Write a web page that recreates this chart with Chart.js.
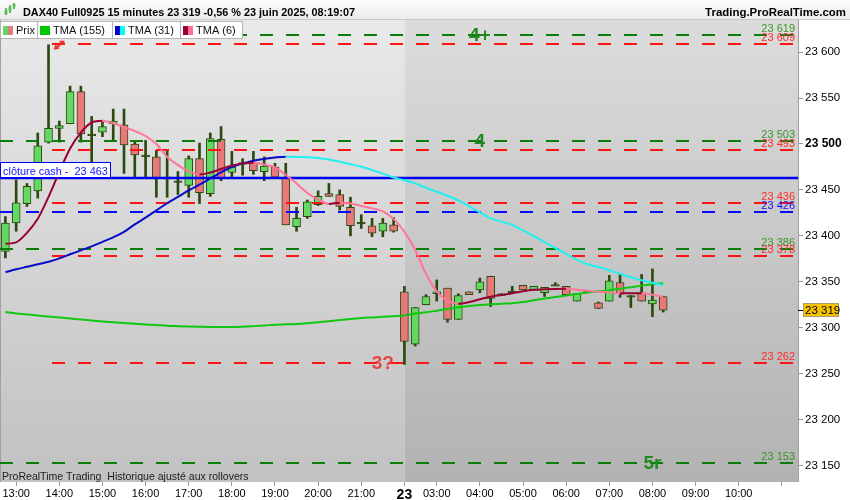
<!DOCTYPE html>
<html>
<head>
<meta charset="utf-8">
<script src="https://cdn.jsdelivr.net/npm/chart.js"></script>
<style>
  html, body { margin: 0; padding: 0; background: #fff; }
  #wrap { width: 850px; height: 500px; }
</style>
</head>
<body>
<div id="wrap"><canvas id="chart" width="850" height="500"></canvas></div>
<script>
// ── DATA (15 min bars, 22 juin 12:45 → 23 juin 08:15) ─────────────
const sessionStarts = ['12:45', '02:15'];
const sessionBars   = [37, 25];
const emptySlots    = 12;

const opens  = [23383,23414,23435,23449,23502,23517,23522,23557,23510,23513,23522,23521,23500,23487,23486,23463,23459,23455,23484,23446,23505,23469,23479,23480,23470,23475,23464,23410,23421,23434,23446,23445,23431,23414,23411,23405,23412,
                23339,23282,23325,23337,23343,23309,23339,23341,23356,23336,23339,23346,23341,23338,23346,23345,23329,23339,23327,23329,23349,23334,23338,23326,23334];
const highs  = [23421,23461,23457,23512,23608,23525,23563,23563,23530,23524,23538,23538,23504,23504,23493,23493,23470,23487,23501,23512,23519,23492,23484,23492,23486,23479,23479,23431,23439,23449,23457,23450,23442,23423,23419,23419,23420,
                23345,23322,23336,23352,23343,23337,23339,23354,23356,23337,23345,23346,23345,23344,23349,23345,23337,23340,23328,23357,23359,23335,23358,23364,23334];
const lows   = [23376,23405,23432,23441,23501,23502,23522,23502,23479,23508,23504,23468,23464,23464,23442,23442,23445,23442,23435,23443,23460,23464,23466,23467,23460,23463,23412,23405,23419,23433,23443,23428,23400,23408,23399,23399,23404,
                23260,23280,23325,23329,23306,23309,23336,23338,23323,23335,23337,23341,23341,23334,23346,23336,23329,23338,23321,23329,23333,23322,23329,23312,23317];
const closes = [23414,23436,23454,23498,23517,23520,23557,23511,23509,23519,23525,23499,23488,23487,23463,23463,23459,23484,23447,23506,23463,23475,23479,23471,23476,23464,23412,23419,23437,23443,23443,23432,23411,23414,23403,23414,23405,
                23285,23322,23334,23339,23309,23335,23336,23350,23332,23336,23339,23341,23345,23344,23346,23336,23337,23339,23321,23351,23337,23334,23329,23330,23319];

const tma155 = [23317.1,23315.5,23314.5,23313.3,23312.2,23311.1,23310,23309,23307.8,23306.7,23305.8,23305,23304.3,23303.6,23303,23302.2,23301.7,23301.3,23301,23300.8,23300.8,23300.8,23301.1,23301.7,23302.4,23303.3,23303.7,23304.1,23304.9,23305.9,23307.1,23308.3,23309.5,23310.5,23311.2,23311.8,23312.5,
                23313.4,23315.4,23316.7,23318.5,23320.4,23322.2,23323.6,23324.7,23325.5,23326.1,23326.6,23328,23329.9,23331.7,23333.3,23335,23336.8,23338.4,23339.6,23340.7,23342.4,23344,23345.8,23347.4,23348.4];
const tma31  = [23360.5,23363.6,23366.3,23369,23371.7,23375.5,23379.9,23384.2,23388.6,23393.5,23398.4,23404.3,23412.5,23419.8,23427.7,23435.5,23442.4,23449.5,23455.7,23462.5,23469.2,23475,23478.8,23481.8,23483.7,23485.3,23486.2,23485.9,23485.7,23484.8,23483.2,23480.7,23478,23475.2,23471.7,23467.8,23463.6,
                23460.5,23457.1,23452.4,23448,23443.7,23438.6,23432.1,23425.5,23419,23415.5,23412,23406,23399.8,23393.2,23386.7,23380.4,23373.9,23369,23366,23362.5,23358.7,23354.9,23351.6,23348.9,23346.2];
const tma6   = [23391.3,23392.9,23403.3,23418.5,23442.4,23469.6,23495.1,23512.5,23523.4,23525.3,23522.5,23518.5,23514.1,23508.7,23500,23485.9,23477.2,23470.1,23466.8,23469,23472.8,23476.6,23478.8,23479.6,23477.7,23474.5,23466.3,23457.1,23446.7,23439.7,23434.8,23436.1,23435.3,23432.6,23429.9,23426.6,23418.5,
                23404.3,23384.8,23358.7,23339.5,23329.3,23326.1,23327.9,23331,23333.7,23335.7,23337.5,23339.7,23341.3,23341.8,23342.2,23342.4,23341.3,23340.2,23339.1,23338.4,23337.3,23337.5,23337.6,23335.9,23333.7];

const tickSlots  = [1,5,9,13,17,21,25,29,33,37,40,44,48,52,56,60,64,68,72];
const tickLabels = ['13:00','14:00','15:00','16:00','17:00','18:00','19:00','20:00','21:00','23','03:00','04:00','05:00','06:00','07:00','08:00','09:00','10:00',''];

const yTicks = [23150,23200,23250,23300,23350,23400,23450,23500,23550,23600];
const yMin = 23132, yMax = 23635;

const levelValues = [23619, 23609, 23503, 23493, 23436, 23426, 23386, 23378, 23262, 23153];
const levelKinds  = ['g',   'r',   'g',   'r',   'r',   'b',   'g',   'r',   'r',   'g'];
const cashClose = 23463;
const lastPrice = 23319;

const noteTexts  = ['4+', '4', '3?', '5r'];
const noteSlots  = [44, 44, 35, 60];
const noteValues = [23619, 23503, 23262, 23153];
const noteKinds  = ['g', 'g', 'r', 'g'];

// ── STYLE ─────────────────────────────────────────────
const FONT = "'Liberation Sans', Arial, sans-serif";
const UP = '#63d963', DOWN = '#e9787a', EDGE = '#2c4a10';
const levelStyle = {
  g: { line: '#0b7d0b', text: '#3a962a', from: -0.5 },
  r: { line: '#ff1414', text: '#ff2a2a', from: 4.32 },
  b: { line: '#0a0aff', text: '#1010ff', from: -0.5 }
};
const noteColor = { g: '#1f8a1f', r: '#e64545' };

const pad = n => String(n).padStart(2, '0');
function buildSlots() {
  const out = [];
  let h = 0, m = 0;
  sessionStarts.forEach((s, k) => {
    [h, m] = s.split(':').map(Number);
    for (let i = 0; i < sessionBars[k]; i++) {
      out.push(pad(h) + ':' + pad(m));
      m += 15; if (m >= 60) { m -= 60; h++; }
    }
  });
  for (let i = 0; i < emptySlots; i++) {
    out.push(pad(h) + ':' + pad(m));
    m += 15; if (m >= 60) { m -= 60; h++; }
  }
  return out;
}
const slotLabels = buildSlots();
const fmt = v => String(Math.round(v)).replace(/\B(?=(\d{3})+(?!\d))/g, ' ');

const isDoji = i => Math.abs(closes[i] - opens[i]) <= 1;
const bodies = opens.map((o, i) => isDoji(i) ? [o - 0.9, o + 0.9] : [Math.min(o, closes[i]), Math.max(o, closes[i])]);
const bodyColors = opens.map((o, i) => isDoji(i) ? EDGE : (closes[i] > o ? UP : DOWN));
const wicks = lows.map((l, i) => [l, highs[i]]);

function trendSegment(upColor, downColor) {
  return { borderColor: c => c.p1.parsed.y >= c.p0.parsed.y ? upColor : downColor };
}

function fitText(ctx, text, x, y, width, weight, maxSize) {
  ctx.font = `${weight} 20px ${FONT}`;
  let size = 20 * width / ctx.measureText(text).width;
  if (size > maxSize) size = maxSize;
  ctx.font = `${weight} ${size.toFixed(2)}px ${FONT}`;
  ctx.fillText(text, x, y);
}

// ── DECORATIONS ───────────────────────────────────────
const decor = {
  id: 'decor',
  beforeDraw(chart) {
    const { ctx, chartArea: a, scales: { x } } = chart;
    ctx.save();
    ctx.fillStyle = '#fff';
    ctx.fillRect(0, 0, chart.width, chart.height);
    const split = x.getPixelForValue(sessionBars[0]);
    let g = ctx.createLinearGradient(0, a.top, 0, a.bottom);
    g.addColorStop(0, '#e9e9e9'); g.addColorStop(1, '#c1c1c1');
    ctx.fillStyle = g;
    ctx.fillRect(a.left, a.top, split - a.left, a.bottom - a.top);
    g = ctx.createLinearGradient(0, a.top, 0, a.bottom);
    g.addColorStop(0, '#dcdcdc'); g.addColorStop(1, '#b2b2b2');
    ctx.fillStyle = g;
    ctx.fillRect(split, a.top, a.right - split, a.bottom - a.top);
    ctx.strokeStyle = '#a0a0a0'; ctx.lineWidth = 1;
    ctx.beginPath();
    ctx.moveTo(a.left + 0.5, a.top); ctx.lineTo(a.left + 0.5, a.bottom);
    ctx.moveTo(a.right + 0.5, a.top); ctx.lineTo(a.right + 0.5, a.bottom);
    ctx.stroke();
    ctx.restore();
  },
  afterDatasetDraw(chart, args) {
    if (args.index !== 1) return;
    const { ctx, chartArea: a, scales: { x, y } } = chart;
    ctx.save();
    ctx.beginPath(); ctx.rect(a.left, a.top, a.right - a.left, a.bottom - a.top); ctx.clip();
    ctx.lineWidth = 2;
    ctx.setLineDash([13, 13]);
    levelValues.forEach((v, i) => {
      const st = levelStyle[levelKinds[i]];
      const py = Math.round(y.getPixelForValue(v));
      ctx.strokeStyle = st.line;
      ctx.beginPath();
      ctx.moveTo(x.getPixelForValue(st.from), py);
      ctx.lineTo(a.right, py);
      ctx.stroke();
    });
    ctx.setLineDash([]);
    // cash close line
    const cy = Math.round(y.getPixelForValue(cashClose));
    ctx.strokeStyle = '#0000f0'; ctx.lineWidth = 2.5;
    ctx.beginPath(); ctx.moveTo(a.left, cy); ctx.lineTo(a.right, cy); ctx.stroke();
    ctx.restore();
  },
  afterDraw(chart) {
    const { ctx, chartArea: a, scales: { x, y } } = chart;
    ctx.save();
    // level values at right edge
    ctx.textAlign = 'right';
    ctx.textBaseline = 'alphabetic';
    ctx.font = `11px ${FONT}`;
    levelValues.forEach((v, i) => {
      ctx.fillStyle = levelStyle[levelKinds[i]].text;
      ctx.fillText(fmt(v), a.right - 3, y.getPixelForValue(v) - 3);
    });
    // wave notes
    ctx.textAlign = 'center';
    ctx.textBaseline = 'middle';
    ctx.font = `bold 19px ${FONT}`;
    noteTexts.forEach((t, i) => {
      ctx.fillStyle = noteColor[noteKinds[i]];
      ctx.fillText(t, x.getPixelForValue(noteSlots[i]), y.getPixelForValue(noteValues[i]) + 1);
    });
    // red marker at the spike high
    const hi = highs.indexOf(Math.max(...highs));
    const hx = x.getPixelForValue(hi), hy = y.getPixelForValue(highs[hi]);
    ctx.strokeStyle = '#e63232'; ctx.fillStyle = '#e63232'; ctx.lineWidth = 2;
    ctx.beginPath();
    ctx.moveTo(hx + 11, hy - 3); ctx.lineTo(hx + 16, hy - 3);
    ctx.moveTo(hx + 15, hy - 3); ctx.lineTo(hx + 8, hy + 3);
    ctx.stroke();
    ctx.beginPath();
    ctx.moveTo(hx + 5, hy + 5); ctx.lineTo(hx + 7, hy - 0.5); ctx.lineTo(hx + 11, hy + 4);
    ctx.closePath(); ctx.fill();
    // cash close label
    const cy = Math.round(y.getPixelForValue(cashClose));
    ctx.fillStyle = '#fff';
    ctx.fillRect(a.left, cy - 15, 111, 15);
    ctx.strokeStyle = '#0000f0'; ctx.lineWidth = 1;
    ctx.strokeRect(a.left + 0.5, cy - 15.5, 110, 15);
    ctx.fillStyle = '#1414ff';
    ctx.textAlign = 'left'; ctx.textBaseline = 'alphabetic';
    fitText(ctx, 'clôture cash -  ' + fmt(cashClose), a.left + 3, cy - 3, 105, 'normal', 12);
    // footer note
    ctx.fillStyle = '#222';
    fitText(ctx, 'ProRealTime Trading  Historique ajusté aux rollovers', a.left + 2, a.bottom - 2, 247, 'normal', 12);
    // last price tag
    const ly = Math.round(y.getPixelForValue(lastPrice));
    ctx.strokeStyle = '#000'; ctx.lineWidth = 1;
    ctx.beginPath(); ctx.moveTo(a.right, ly + 0.5); ctx.lineTo(a.right + 5, ly + 0.5); ctx.stroke();
    ctx.fillStyle = '#f7c500';
    ctx.fillRect(a.right + 5, ly - 7, 35, 14);
    ctx.strokeStyle = '#a89c70';
    ctx.strokeRect(a.right + 5.5, ly - 6.5, 35, 13);
    ctx.fillStyle = '#000';
    ctx.font = `11.5px ${FONT}`;
    ctx.textBaseline = 'middle';
    ctx.fillText(fmt(lastPrice), a.right + 7, ly + 0.5);
    // title bar
    let g = ctx.createLinearGradient(0, 0, 0, a.top);
    g.addColorStop(0, '#fbfbfb'); g.addColorStop(1, '#ebebeb');
    ctx.fillStyle = g;
    ctx.fillRect(0, 0, chart.width, a.top);
    ctx.strokeStyle = '#c8c8c8';
    ctx.beginPath(); ctx.moveTo(0, a.top - 0.5); ctx.lineTo(chart.width, a.top - 0.5); ctx.stroke();
    // small candle icon
    ctx.fillStyle = '#2c4a10';
    [[6, 8, 15], [10, 5, 13], [14, 3, 9]].forEach(([ix, t, b]) => ctx.fillRect(ix - 0.5, t, 1, b - t));
    ctx.fillStyle = '#4ccc4c';
    [[6, 10, 14], [10, 7, 11], [14, 4, 7]].forEach(([ix, t, b]) => ctx.fillRect(ix - 1.5, t, 3, b - t));
    ctx.fillStyle = '#000';
    ctx.textBaseline = 'alphabetic';
    ctx.textAlign = 'left';
    fitText(ctx, 'DAX40 Full0925 15 minutes 23 319 -0,56 % 23 juin 2025, 08:19:07', 23, 16, 332, 'bold', 12);
    ctx.textAlign = 'right';
    fitText(ctx, 'Trading.ProRealTime.com', 846, 16, 141, 'bold', 12.5);
    // legend row
    const boxes = [
      { x0: 0,   x1: 37,  sw: [UP, DOWN],           text: 'Prix' },
      { x0: 37,  x1: 112, sw: ['#00c800', '#00c800'], text: 'TMA (155)' },
      { x0: 112, x1: 180, sw: ['#0000cc', '#00ffff'], text: 'TMA (31)' },
      { x0: 180, x1: 242, sw: ['#990033', '#ff6f93'], text: 'TMA (6)' }
    ];
    ctx.textAlign = 'left';
    ctx.font = `11px ${FONT}`;
    boxes.forEach(b => {
      ctx.fillStyle = '#fff';
      ctx.fillRect(b.x0, a.top + 1, b.x1 - b.x0, 17);
      ctx.strokeStyle = '#b4b4b4';
      ctx.strokeRect(b.x0 + 0.5, a.top + 1.5, b.x1 - b.x0, 17);
      ctx.fillStyle = b.sw[0]; ctx.fillRect(b.x0 + 3, a.top + 6, 5, 9);
      ctx.fillStyle = b.sw[1]; ctx.fillRect(b.x0 + 8, a.top + 6, 5, 9);
      ctx.fillStyle = '#111';
      ctx.fillText(b.text, b.x0 + 16, a.top + 14);
    });
    ctx.restore();
  }
};

Chart.defaults.font.family = FONT;

new Chart(document.getElementById('chart'), {
  type: 'bar',
  data: {
    labels: slotLabels,
    datasets: [
      { type: 'bar', data: wicks, backgroundColor: EDGE, barThickness: 2, grouped: false, order: 4 },
      { type: 'bar', data: bodies, backgroundColor: bodyColors, borderColor: EDGE, borderWidth: 1,
        borderSkipped: false, barThickness: 8, grouped: false, order: 3 },
      { type: 'line', data: tma155, borderColor: '#10c810', borderWidth: 2, pointRadius: 0,
        cubicInterpolationMode: 'monotone', fill: false, order: 2 },
      { type: 'line', data: tma31, borderColor: '#0a0ac8', borderWidth: 2, pointRadius: 0,
        cubicInterpolationMode: 'monotone', fill: false, order: 1, segment: trendSegment('#0a0ac8', '#20f0f0') },
      { type: 'line', data: tma6, borderColor: '#990033', borderWidth: 2, pointRadius: 0,
        cubicInterpolationMode: 'monotone', fill: false, order: 0, segment: trendSegment('#990033', '#ff7499') }
    ]
  },
  options: {
    responsive: false,
    animation: false,
    layout: { padding: { top: 20, left: 0, right: 0, bottom: 0 } },
    plugins: { legend: { display: false }, tooltip: { enabled: false }, title: { display: false } },
    scales: {
      x: {
        type: 'category',
        offset: true,
        border: { display: false },
        grid: { drawOnChartArea: false, drawTicks: true, tickLength: 4, color: '#9a9a9a', offset: false },
        afterBuildTicks: s => { s.ticks = s.ticks.filter(t => tickSlots.includes(t.value)); },
        ticks: {
          autoSkip: false, maxRotation: 0, padding: 1, color: '#000',
          font: c => (c.tick && c.tick.label === '23') ? { size: 14, weight: 'bold' } : { size: 11 },
          callback: v => tickLabels[tickSlots.indexOf(v)]
        },
        afterFit: s => { s.height = 18; }
      },
      y: {
        position: 'right',
        min: yMin, max: yMax,
        border: { display: false },
        grid: { drawOnChartArea: false, tickLength: 5, color: '#9a9a9a' },
        afterBuildTicks: s => { s.ticks = yTicks.map(v => ({ value: v })); },
        ticks: {
          padding: 2, color: '#000',
          font: c => (c.tick && c.tick.value === 23500) ? { size: 12, weight: 'bold' } : { size: 11.5 },
          callback: v => fmt(v)
        },
        afterFit: s => { s.width = 52; }
      }
    }
  },
  plugins: [decor]
});
</script>
</body>
</html>
